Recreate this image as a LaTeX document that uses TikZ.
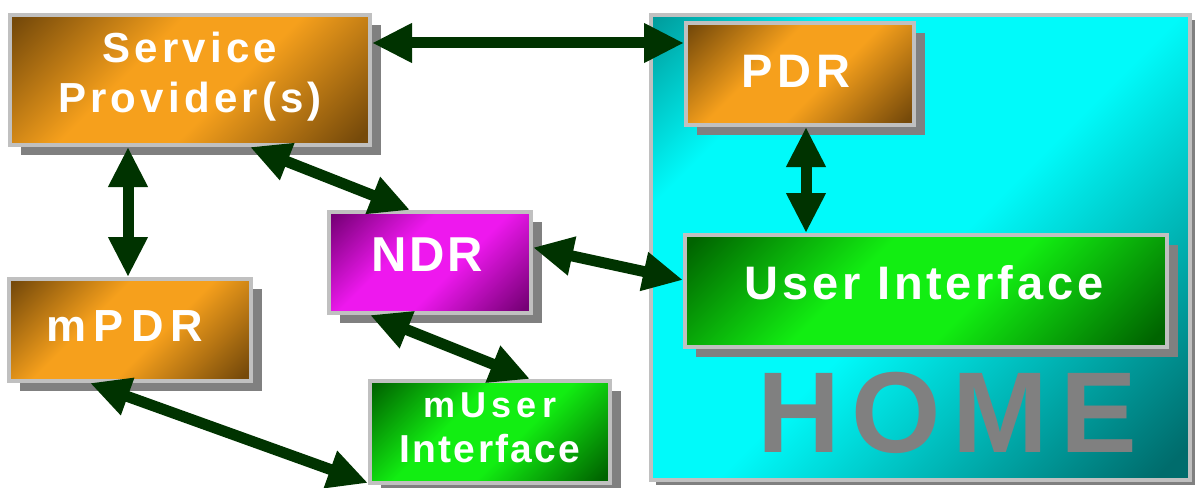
\documentclass[tikz,border=0pt]{standalone}
\usepackage{fontspec}
\setmainfont{Liberation Sans}
\usetikzlibrary{arrows.meta,shadows,calc}

\definecolor{oD}{RGB}{118,74,10}
\definecolor{oL}{RGB}{246,160,28}
\definecolor{mD}{RGB}{118,0,118}
\definecolor{mL}{RGB}{238,24,238}
\definecolor{gD}{RGB}{0,100,0}
\definecolor{gL}{RGB}{18,238,18}
\definecolor{cD}{RGB}{0,108,108}
\definecolor{cM}{RGB}{0,150,150}
\definecolor{cL}{RGB}{0,250,250}
\definecolor{bord}{RGB}{192,192,192}
\definecolor{shad}{RGB}{128,128,128}
\definecolor{arrc}{RGB}{0,51,0}

\pgfdeclareverticalshading{oshade}{100bp}{color(0bp)=(oD); color(17bp)=(oD); color(43bp)=(oL); color(60bp)=(oL); color(84bp)=(oD); color(100bp)=(oD)}
\pgfdeclareverticalshading{mshade}{100bp}{color(0bp)=(mD); color(17bp)=(mD); color(43bp)=(mL); color(60bp)=(mL); color(84bp)=(mD); color(100bp)=(mD)}
\pgfdeclareverticalshading{gshade}{100bp}{color(0bp)=(gD); color(17bp)=(gD); color(43bp)=(gL); color(60bp)=(gL); color(84bp)=(gD); color(100bp)=(gD)}
\pgfdeclareverticalshading{cshade}{100bp}{color(0bp)=(cD); color(17bp)=(cD); color(48bp)=(cL); color(72bp)=(cL); color(86bp)=(cM); color(100bp)=(cM)}

\tikzset{
  boxbase/.style={draw=bord, line width=4pt, inner sep=0pt, text=white, align=center, shading angle=45},
  box/.style={boxbase, drop shadow={shadow xshift=11pt, shadow yshift=-10pt, fill=shad, opacity=1}},
  fnt/.style 2 args={font=\bfseries\addfontfeatures{LetterSpace=#2}\fontsize{#1}{50}\selectfont},
  arr/.style={draw=arrc, line width=11pt, {Triangle[length=40pt,width=37pt]}-{Triangle[length=40pt,width=37pt]}},
}

\begin{document}
\begin{tikzpicture}[x=1pt,y=-1pt]
\useasboundingbox (0,0) rectangle (1196,487);
\fill[white] (0,0) rectangle (1196,487);

% HOME container
\node[boxbase, shading=cshade, drop shadow={shadow xshift=5pt, shadow yshift=-5pt, fill=shad, opacity=1},
      minimum width=539pt, minimum height=465pt] (home) at (920.5,247.5) {};
\node[fnt={115}{10}, text=shad, anchor=base, inner sep=0pt] (homelbl) at (947,452) {HOME};

% boxes
\node[box, shading=oshade, minimum width=360pt, minimum height=130pt, fnt={42}{10},
      text height=80pt, text depth=16pt] (sp) at (190,80) {Service\\Provider(s)};
\node[box, shading=oshade, minimum width=228pt, minimum height=102pt, fnt={47}{10},
      text height=34pt, text depth=6pt] (pdr) at (800,74) {\hspace*{-8pt}PDR};
\node[box, shading=mshade, minimum width=202pt, minimum height=101pt, fnt={49}{5},
      text height=35pt, text depth=17pt] (ndr) at (430,262.5) {\hspace*{-5pt}NDR};
\node[box, shading=oshade, minimum width=242pt, minimum height=102pt, fnt={45}{16},
      text height=32pt, text depth=10pt] (mpdr) at (130,330) {\hspace*{-10pt}mPDR};
\node[box, shading=gshade, minimum width=482pt, minimum height=112pt, fnt={47}{8},
      text height=34pt, text depth=18pt] (ui) at (926,291) {\hspace*{-4pt}User Interface};
\node[box, shading=gshade, minimum width=240pt, minimum height=102pt,
      font=\bfseries\addfontfeatures{LetterSpace=6}\fontsize{39}{45}\selectfont,
      text height=68pt, text depth=7pt] (mui) at (490,432)
      {{\addfontfeatures{LetterSpace=14}\fontsize{36}{45}\selectfont mUser}\\Interface};

% connectors
\draw[arr] ([yshift=37pt]sp.east) -- ([yshift=37pt]sp.east -| pdr.west);
\draw[arr] ([xshift=-62pt]sp.south) -- ([xshift=-62pt]sp.south |- mpdr.north);
\draw[arr] ([xshift=60pt]sp.south) -- ([xshift=-20pt]ndr.north);
\draw[arr] ([xshift=6pt]pdr.south) -- ([xshift=6pt]pdr.south |- ui.north);
\draw[arr] ([yshift=15pt]ndr.east) -- ([yshift=11pt]ui.west);
\draw[arr] ([xshift=-60pt]ndr.south) -- ([xshift=40pt]mui.north);
\draw[arr] ([xshift=-40pt]mpdr.south) -- ([yshift=2pt]mui.south west);
\end{tikzpicture}
\end{document}
